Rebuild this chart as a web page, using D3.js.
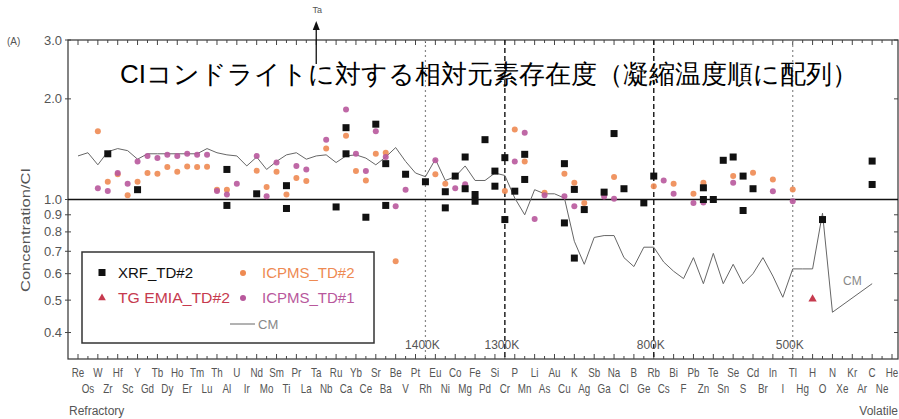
<!DOCTYPE html>
<html>
<head>
<meta charset="utf-8">
<script src="https://cdn.jsdelivr.net/npm/d3@7/dist/d3.min.js"></script>
<style>
  html, body { margin: 0; padding: 0; background: #fff; }
  svg { display: block; }
  text { font-family: "Liberation Sans", Arial, sans-serif; }
</style>
</head>
<body>
<svg id="chart" width="899" height="419"></svg>
<script>
// Elements ordered by 50% condensation temperature (refractory -> volatile)
const elements = ["Re","Os","W","Zr","Hf","Sc","Y","Gd","Tb","Dy","Ho","Er","Tm","Lu","Th","Al","U","Ir","Nd","Mo",
  "Sm","Ti","Pr","La","Ta","Nb","Ru","Ca","Yb","Ce","Sr","Ba","Be","V","Pt","Rh","Eu","Ni","Co","Mg",
  "Fe","Pd","Si","Cr","P","Mn","Li","As","Au","Cu","K","Ag","Sb","Ga","Na","Cl","B","Ge","Rb","Cs",
  "Bi","F","Pb","Zn","Te","Sn","Se","S","Cd","Br","In","I","Tl","Hg","H","O","N","Xe","Kr","Ar",
  "C","Ne","He"];

// CM chondrite abundances / CI (one per element, null where not shown)
const cmValues = [1.35,1.38,1.27,1.39,1.42,1.40,1.32,1.37,1.37,1.37,1.37,1.37,1.37,1.42,1.38,1.36,1.35,1.26,1.34,1.23,
  1.30,1.36,1.38,1.32,1.35,1.36,1.29,1.35,1.36,1.33,1.27,1.34,1.43,1.30,1.20,1.17,1.32,1.14,1.17,1.26,
  1.14,1.14,1.20,1.18,1.01,0.90,1.07,1.04,1.04,1.01,0.75,0.64,0.77,0.78,0.78,0.67,0.63,0.72,0.72,0.65,
  0.61,0.58,0.67,0.56,0.69,0.56,0.64,0.56,0.60,0.67,0.59,0.51,0.62,0.62,0.62,0.91,0.46,null,null,null,
  0.56,null,null];

// XRF_TD#2 (two measurement runs)
const xrfRun1 = [["Zr",1.37],["Y",1.07],["Al",1.23],["Nd",1.04],["Ti",1.10],["Ru",0.95],["Ca",1.64],["Ce",0.885],
  ["Sr",1.68],["Ba",1.28],["V",1.19],["Rh",1.13],["Ni",1.055],["Co",1.175],["Mg",1.34],["Fe",1.035],["Pd",1.51],
  ["Si",1.216],["Cr",1.334],["P",1.059],["Mn",1.365],["Cu",1.28],["K",1.072],["Ag",0.933],["Ga",1.052],["Na",1.575],
  ["Cl",1.077],["Ge",0.977],["Rb",1.175],["Zn",1.084],["Te",1.0],["Sn",1.31],["Se",1.34],["S",1.175],["Cd",1.077],
  ["O",0.871],["C",1.303]];
const xrfRun2 = [["Al",0.96],["Ti",0.94],["Ca",1.37],["Ba",0.96],["Ni",0.944],["Mg",1.077],["Fe",0.988],["Si",1.096],
  ["Cr",0.871],["Mn",1.148],["Cu",0.851],["K",0.668],["Zn",1.0],["S",0.927],["C",1.109]];

// TG-EMIA_TD#2
const tgEmia = [["H",0.504]];

// ICPMS_TD#2
const icpmsTd2 = [["W",1.60],["Zr",1.13],["Hf",1.19],["Sc",1.03],["Y",1.13],["Gd",1.20],["Tb",1.195],["Dy",1.25],
  ["Ho",1.21],["Er",1.256],["Tm",1.25],["Lu",1.254],["Th",1.07],["Al",1.07],["Nd",1.22],["Mo",1.09],["Sm",1.21],
  ["Ti",1.035],["Pr",1.16],["La",1.135],["Nb",1.42],["Ca",1.55],["Yb",1.216],["Ce",1.14],["Sr",1.37],["Ba",1.38],
  ["Be",0.653],["Eu",1.19],["Ni",1.115],["Cr",1.06],["P",1.62],["Mn",1.30],["As",1.047],["Cu",1.194],["K",1.122],
  ["Ag",0.977],["Na",1.167],["Rb",1.096],["Bi",1.115],["Pb",1.04],["Zn",1.122],["Se",1.175],["Cd",1.203],
  ["In",1.148],["Tl",1.072]];

// ICPMS_TD#1
const icpmsTd1 = [["W",1.08],["Zr",1.06],["Hf",1.20],["Sc",1.115],["Y",1.30],["Gd",1.35],["Tb",1.33],["Dy",1.36],
  ["Ho",1.35],["Er",1.37],["Tm",1.36],["Lu",1.36],["Th",1.06],["Al",1.035],["U",1.115],["Nd",1.35],["Mo",1.023],
  ["Sm",1.29],["Pr",1.26],["La",1.23],["Nb",1.51],["Ca",1.86],["Yb",1.37],["Ce",1.216],["Sr",1.60],["Ba",1.34],
  ["Be",0.955],["V",1.07],["Eu",1.31],["Co",1.08],["Mg",1.11],["P",1.30],["Mn",1.585],["Li",0.875],["As",1.03],
  ["Cu",1.023],["K",0.955],["Ga",1.02],["Na",1.005],["Cs",1.14],["Bi",1.04],["Pb",0.977],["Zn",0.98],["Se",1.122],
  ["In",1.059],["Tl",0.988]];

// Y axis ticks and condensation-temperature markers
const yTicks = [3.0, 2.0, 1.0, 0.9, 0.8, 0.7, 0.6, 0.5, 0.4];
const tempMarks = [["Rh","1400K",false],["Cr","1300K",true],["Rb","800K",true],["Tl","500K",false]];

const svg = d3.select("#chart");
const plot = {left: 68, right: 898, top: 40, bottom: 359};

const x = d3.scalePoint().domain(elements).range([78, 892]);
const y = d3.scaleLog().domain([1/3, 3]).range([plot.bottom, plot.top]);

const grayText = "#555";

// Frame
svg.append("rect")
  .attr("x", plot.left).attr("y", plot.top)
  .attr("width", plot.right - plot.left).attr("height", plot.bottom - plot.top)
  .attr("fill", "none").attr("stroke", "#333").attr("stroke-width", 1.2);

// Element ticks on top and bottom edges
const tickG = svg.append("g").attr("stroke", "#444").attr("stroke-width", 1);
elements.forEach((e, i) => {
  const xx = x(e);
  tickG.append("line").attr("x1", xx).attr("x2", xx).attr("y1", plot.top).attr("y2", plot.top + (i % 2 ? 3 : 5));
  tickG.append("line").attr("x1", xx).attr("x2", xx).attr("y1", plot.bottom).attr("y2", plot.bottom - (i % 2 ? 3 : 5));
});

// Y ticks on both sides
yTicks.forEach(v => {
  const yy = y(v);
  tickG.append("line").attr("x1", plot.left - 3).attr("x2", plot.left + 3).attr("y1", yy).attr("y2", yy);
  tickG.append("line").attr("x1", plot.right - 4).attr("x2", plot.right).attr("y1", yy).attr("y2", yy);
});

// Y tick labels
svg.append("g").selectAll("text").data(yTicks).join("text")
  .attr("x", 62).attr("y", d => y(d) + 4.5)
  .attr("text-anchor", "end").attr("font-size", 13).attr("fill", grayText)
  .text(d => d.toFixed(1));

svg.append("text").attr("x", 7).attr("y", 45).attr("font-size", 10).attr("fill", grayText).text("(A)");

svg.append("text")
  .attr("transform", "translate(30,230) rotate(-90)")
  .attr("text-anchor", "middle").attr("font-size", 12).attr("fill", grayText)
  .attr("textLength", 124).attr("lengthAdjust", "spacingAndGlyphs")
  .text("Concentration/CI");

// Element labels in two staggered rows
const labG = svg.append("g").attr("fill", grayText).attr("font-size", 12);
elements.forEach((e, i) => {
  labG.append("text")
    .attr("transform", `translate(${x(e)},${i % 2 ? 393 : 377}) scale(0.82,1)`)
    .attr("text-anchor", "middle")
    .text(e);
});
svg.append("text").attr("x", 69).attr("y", 415).attr("font-size", 12).attr("fill", grayText).text("Refractory");
svg.append("text").attr("x", 898).attr("y", 415).attr("text-anchor", "end").attr("font-size", 12).attr("fill", grayText).text("Volatile");

// Condensation temperature lines
tempMarks.forEach(([el, lab, dark]) => {
  svg.append("line")
    .attr("x1", x(el)).attr("x2", x(el)).attr("y1", plot.top).attr("y2", plot.bottom)
    .attr("stroke", dark ? "#222" : "#888")
    .attr("stroke-width", dark ? 1.5 : 1.2)
    .attr("stroke-dasharray", dark ? "5,3" : "2,3");
  svg.append("text").attr("x", x(el) - 3).attr("y", 349)
    .attr("text-anchor", "middle").attr("font-size", 12).attr("fill", grayText).text(lab);
});

// Reference line at CI = 1
svg.append("line")
  .attr("x1", plot.left).attr("x2", plot.right).attr("y1", y(1)).attr("y2", y(1))
  .attr("stroke", "#111").attr("stroke-width", 1.4);

// CM line
const cmPts = elements.map((e, i) => [e, cmValues[i]]).filter(d => d[1] != null);
svg.append("path")
  .datum(cmPts)
  .attr("d", d3.line().x(d => x(d[0])).y(d => y(d[1])))
  .attr("fill", "none").attr("stroke", "#666").attr("stroke-width", 1);
svg.append("text").attr("x", 843).attr("y", 285).attr("font-size", 12).attr("fill", "#888").text("CM");

// Title
svg.append("text")
  .attr("x", 120).attr("y", 83)
  .attr("font-family", "'Noto Sans CJK JP', sans-serif")
  .attr("font-size", 26).attr("fill", "#000")
  .attr("textLength", 738).attr("lengthAdjust", "spacingAndGlyphs")
  .text("CIコンドライトに対する相対元素存在度（凝縮温度順に配列）");

// Ta off-scale arrow
svg.append("line").attr("x1", x("Ta")).attr("x2", x("Ta")).attr("y1", 64).attr("y2", 26)
  .attr("stroke", "#111").attr("stroke-width", 1.3);
svg.append("path")
  .attr("d", d3.line()([[x("Ta") - 3.5, 30], [x("Ta"), 21], [x("Ta") + 3.5, 30]]) + "Z")
  .attr("fill", "#111");
svg.append("text").attr("x", x("Ta") + 1).attr("y", 13).attr("text-anchor", "middle")
  .attr("font-size", 9).attr("fill", grayText).text("Ta");

// Series colours
const cXrf = "#111", cTg = "#c63a4e", cIcp2 = "#ee8a52", cIcp1 = "#b8589c";

const marks = svg.append("g");
function circles(data, color) {
  marks.append("g").selectAll("circle").data(data).join("circle")
    .attr("cx", d => x(d[0])).attr("cy", d => y(d[1])).attr("r", 3)
    .attr("fill", color).attr("fill-opacity", 0.9);
}
circles(icpmsTd2, cIcp2);
circles(icpmsTd1, cIcp1);
[xrfRun1, xrfRun2].forEach(run => {
  marks.append("g").selectAll("rect").data(run).join("rect")
    .attr("x", d => x(d[0]) - 3.5).attr("y", d => y(d[1]) - 3.5)
    .attr("width", 7).attr("height", 7).attr("fill", cXrf);
});
marks.append("g").selectAll("path").data(tgEmia).join("path")
  .attr("transform", d => `translate(${x(d[0])},${y(d[1])})`)
  .attr("d", d3.symbol(d3.symbolTriangle, 30)())
  .attr("fill", cTg);

// Legend
const lg = svg.append("g");
lg.append("rect").attr("x", 82).attr("y", 252).attr("width", 292).attr("height", 91)
  .attr("fill", "#fff").attr("stroke", "#333").attr("stroke-width", 1.5);
lg.append("rect").attr("x", 98.5).attr("y", 269).attr("width", 7).attr("height", 7).attr("fill", cXrf);
lg.append("text").attr("x", 118).attr("y", 278).attr("font-size", 15).attr("fill", "#111").text("XRF_TD#2");
lg.append("path").attr("transform", "translate(102,298)").attr("d", d3.symbol(d3.symbolTriangle, 26)()).attr("fill", cTg);
lg.append("text").attr("x", 118).attr("y", 303).attr("font-size", 15).attr("fill", cTg)
  .attr("textLength", 112).attr("lengthAdjust", "spacingAndGlyphs").text("TG EMIA_TD#2");
lg.append("circle").attr("cx", 243).attr("cy", 273).attr("r", 3).attr("fill", cIcp2);
lg.append("text").attr("x", 262).attr("y", 278).attr("font-size", 15).attr("fill", cIcp2).text("ICPMS_TD#2");
lg.append("circle").attr("cx", 243).attr("cy", 298).attr("r", 3).attr("fill", cIcp1);
lg.append("text").attr("x", 262).attr("y", 303).attr("font-size", 15).attr("fill", cIcp1).text("ICPMS_TD#1");
lg.append("line").attr("x1", 230).attr("x2", 255).attr("y1", 324).attr("y2", 324).attr("stroke", "#666");
lg.append("text").attr("x", 258).attr("y", 329).attr("font-size", 13).attr("fill", "#888").text("CM");
</script>
</body>
</html>
